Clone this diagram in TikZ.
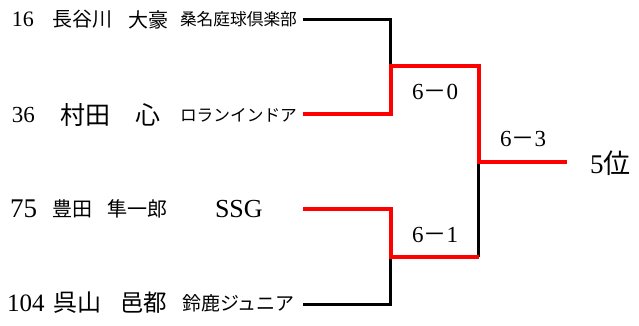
\documentclass[tikz,border=0pt]{standalone}
\usepackage{fontspec}
\setmainfont{Liberation Serif}
\newfontfamily\jp{Noto Sans CJK JP}
\tikzset{
  txt/.style={anchor=west,inner sep=0pt,outer sep=0pt},
  blk/.style={line width=3pt,black},
  win/.style={line width=4pt,red},
  score/.style={inner sep=0pt,font=\fontsize{23}{23}\selectfont}
}
\begin{document}
\begin{tikzpicture}[x=1pt,y=-1pt]
\useasboundingbox (0,0) rectangle (639,326);
% row 1
\node[txt,font=\fontsize{22}{22}\selectfont] (n1) at (12,19.5) {16};
\node[txt,font=\jp\fontsize{20}{20}\selectfont] (f1) at (52,19.5) {長谷川};
\node[txt,font=\jp\fontsize{20}{20}\selectfont] (g1) at (128,19.5) {大豪};
\node[txt,font=\jp\fontsize{16.7}{16.7}\selectfont] (t1) at (180,19.5) {桑名庭球倶楽部};
% row 2
\node[txt,font=\fontsize{23}{23}\selectfont] (n2) at (12,115) {36};
\node[txt,font=\jp\fontsize{25}{25}\selectfont] (f2) at (60,115) {村田};
\node[txt,font=\jp\fontsize{25}{25}\selectfont] (g2) at (135,115) {心};
\node[txt,font=\jp\fontsize{16.7}{16.7}\selectfont] (t2) at (180,115) {ロランインドア};
% row 3
\node[txt,font=\fontsize{27}{27}\selectfont] (n3) at (10,209) {75};
\node[txt,font=\jp\fontsize{20}{20}\selectfont] (f3) at (52,209) {豊田};
\node[txt,font=\jp\fontsize{20}{20}\selectfont] (g3) at (107,209) {隼一郎};
\node[txt,font=\fontsize{26}{26}\selectfont] (t3) at (215,209) {SSG};
% row 4
\node[txt,font=\fontsize{25}{25}\selectfont] (n4) at (7,303) {104};
\node[txt,font=\jp\fontsize{24}{24}\selectfont] (f4) at (53,303) {呉山};
\node[txt,font=\jp\fontsize{23.5}{23.5}\selectfont] (g4) at (120,303) {邑都};
\node[txt,font=\jp\fontsize{19}{19}\selectfont] (t4) at (182,303) {鈴鹿ジュニア};
% bracket points
\coordinate (c1) at (303,19.5);
\coordinate (c2) at (303,114);
\coordinate (c3) at (303,209);
\coordinate (c4) at (303,304.5);
\coordinate (j1) at (390.5,66);
\coordinate (j2) at (390.5,257);
\coordinate (j3) at (478.5,162);
\coordinate (k2) at (478.5,257);
\coordinate (e) at (567,162);
% black lines
\draw[blk] (c1) -| (j1);
\draw[blk] (c4) -| (j2);
\draw[blk] (k2) -- (j3);
% red lines
\draw[win] (c2) -| (j1) -| (j3) -- (e);
\draw[win] (c3) -| (j2) -- (k2);
% scores
\node[score] (s1) at (435,92) {6{\jp －}0};
\node[score] (s2) at (523,139) {6{\jp －}3};
\node[score] (s3) at (435,235) {6{\jp －}1};
\node[txt,font=\fontsize{27}{27}\selectfont] (r) at (590,163) {5{\jp 位}};
\end{tikzpicture}
\end{document}
